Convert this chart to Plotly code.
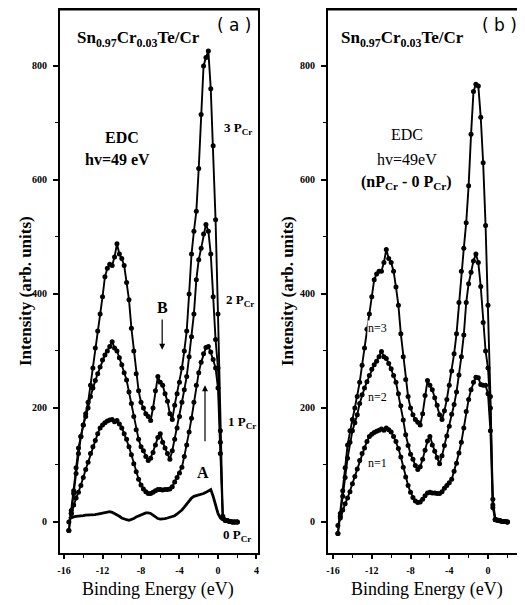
import plotly.graph_objects as go

# ---------------- data ----------------
energy = [-15.5, -15.25, -15.0, -14.75, -14.5, -14.25, -14.0, -13.75, -13.5, -13.25,
          -13.0, -12.75, -12.5, -12.25, -12.0, -11.75, -11.5, -11.25, -11.0, -10.75,
          -10.5, -10.25, -10.0, -9.75, -9.5, -9.25, -9.0, -8.75, -8.5, -8.25,
          -8.0, -7.75, -7.5, -7.25, -7.0, -6.75, -6.5, -6.25, -6.0, -5.75,
          -5.5, -5.25, -5.0, -4.75, -4.5, -4.25, -4.0, -3.75, -3.5, -3.25,
          -3.0, -2.75, -2.5, -2.25, -2.0, -1.75, -1.5, -1.25, -1.0, -0.75,
          -0.5, -0.25, 0.0, 0.25, 0.5, 0.75, 1.0, 1.25, 1.5, 1.75, 2.0]

# panel (a): EDC after n P_Cr depositions
p3 = [-15, 20, 55, 95, 130, 150, 170, 190, 210, 240,
      270, 305, 335, 365, 395, 430, 445, 452, 450, 465,
      488, 470, 462, 450, 420, 390, 340, 300, 260, 230,
      210, 200, 190, 185, 178, 200, 230, 255, 245, 240,
      225, 212, 190, 180, 205, 225, 245, 270, 300, 335,
      400, 470, 510, 545, 620, 715, 800, 815, 826, 760,
      660, 530, 365, 160, 10, 3, 2, 1, 0, 0, 0]
p2 = [-15, 15, 50, 85, 120, 150, 170, 185, 200, 220,
      235, 248, 260, 272, 284, 293, 300, 308, 316, 305,
      300, 288, 276, 262, 249, 228, 208, 185, 162, 145,
      132, 125, 115, 108, 112, 122, 135, 148, 155, 140,
      130, 120, 110, 125, 145, 165, 185, 210, 232, 255,
      290, 325, 365, 425, 460, 480, 505, 522, 510, 470,
      395, 320, 270, 140, 8, 3, 2, 1, 0, 0, 0]
p1 = [0, 15, 30, 42, 52, 64, 78, 92, 105, 120,
      132, 143, 155, 165, 170, 174, 177, 179, 180, 176,
      178, 172, 165, 155, 145, 132, 118, 102, 88, 75,
      65, 58, 53, 50, 50, 52, 55, 57, 57, 56,
      57, 57, 58, 62, 70, 78, 86, 96, 115, 135,
      158, 182, 210, 240, 262, 280, 295, 306, 308, 298,
      285, 270, 235, 120, 6, 3, 2, 1, 0, 0, 0]
p0 = [6, 8, 9, 10, 10, 11, 11, 12, 12, 12,
      12, 13, 14, 15, 16, 17, 18, 18, 17, 15,
      13, 10, 7, 5, 4, 3, 4, 6, 9, 11,
      13, 15, 16, 16, 15, 12, 9, 6, 5, 5,
      6, 7, 8, 9, 11, 14, 17, 21, 26, 32,
      37, 42, 45, 46, 47, 48, 50, 52, 55, 57,
      45, 30, 15, 7, 4, 2, 1, 1, 0, 0, 0]

# panel (b): difference spectra nP_Cr - 0P_Cr
n3 = [-20, 15, 55, 95, 135, 160, 180, 200, 220, 245,
      275, 305, 338, 365, 395, 425, 435, 440, 440, 455,
      478, 462, 455, 440, 412, 380, 330, 290, 250, 220,
      200, 188, 180, 175, 170, 190, 222, 248, 240, 232,
      218, 205, 188, 180, 195, 215, 240, 265, 295, 330,
      385, 440, 480, 525, 590, 680, 755, 768, 765, 710,
      630, 520, 380, 220, 40, 5, 3, 2, 1, 1, 0]
n2 = [-20, 10, 45, 78, 112, 140, 160, 174, 188, 208,
      223, 235, 246, 257, 268, 276, 282, 290, 299, 290,
      287, 278, 269, 257, 245, 225, 204, 179, 153, 134,
      119, 110, 99, 92, 97, 110, 126, 142, 150, 135,
      124, 113, 102, 116, 134, 151, 168, 189, 206, 228,
      258, 290, 328, 385, 418, 438, 458, 470, 455, 413,
      350, 300, 270, 200, 30, 4, 3, 2, 1, 1, 0]
n1 = [-6, 7, 21, 32, 42, 53, 67, 80, 93, 108,
      120, 130, 141, 150, 154, 157, 159, 161, 163, 161,
      165, 162, 158, 150, 141, 129, 114, 96, 79, 64,
      52, 43, 37, 34, 35, 40, 46, 51, 52, 51,
      51, 50, 50, 53, 59, 64, 69, 75, 89, 103,
      121, 140, 165, 194, 215, 232, 245, 254, 253, 241,
      240, 240, 225, 160, 25, 4, 3, 2, 1, 1, 0]

x_ticks = [-16, -12, -8, -4, 0, 4]
x_tick_text = ["-16", "-12", "-8", "-4", "0", "4"]
x_minor = [-14, -10, -6, -2, 2]
y_ticks = [0, 200, 400, 600, 800]
y_tick_text = ["0", "200", "400", "600", "800"]
y_minor = [100, 300, 500, 700]

for arr in (p3, p2, p1, p0, n3, n2, n1):
    assert len(arr) == len(energy)

# ---------------- figure ----------------
OFF = 8                      # page body margin of the html page
W, H = 525 - OFF, 605 - OFF
SERIF = "Liberation Serif"


def PX(X):                   # window pixel -> paper fraction
    return (X - OFF) / W


def PY(Y):
    return 1 - (Y - OFF) / H


fig = go.Figure()


def add_curve(y, xa, ya, markers=True, width=1.9):
    fig.add_trace(go.Scatter(
        x=energy, y=y, xaxis=xa, yaxis=ya,
        mode="lines+markers" if markers else "lines",
        line=dict(color="black", width=width),
        marker=dict(color="black", size=5),
        showlegend=False, hoverinfo="skip"))


add_curve(p0, "x", "y", markers=False, width=2.8)
add_curve(p1, "x", "y")
add_curve(p2, "x", "y")
add_curve(p3, "x", "y")
add_curve(n1, "x2", "y2")
add_curve(n2, "x2", "y2")
add_curve(n3, "x2", "y2")

ydom = [PY(553), PY(9.5)]
tickfont = dict(family=SERIF, size=10, color="black", weight="bold")


def xaxis(domain, rng, anchor):
    return dict(domain=domain, range=rng, anchor=anchor, automargin=False,
                tickvals=x_ticks, ticktext=x_tick_text,
                showline=True, linecolor="black", linewidth=2, mirror=True,
                ticks="outside", ticklen=4, tickwidth=1.5, tickcolor="black",
                ticklabelstandoff=3,
                minor=dict(tickvals=x_minor, ticks="outside", ticklen=3,
                           tickwidth=1, tickcolor="black"),
                showgrid=False, zeroline=False, tickfont=tickfont)


def yaxis(anchor):
    return dict(domain=ydom, range=[-54.4, 899], anchor=anchor, automargin=False,
                tickvals=y_ticks, ticktext=y_tick_text,
                showline=True, linecolor="black", linewidth=2, mirror=True,
                ticks="outside", ticklen=5, tickwidth=1.5, tickcolor="black",
                ticklabelstandoff=4,
                minor=dict(tickvals=y_minor, ticks="outside", ticklen=3,
                           tickwidth=1, tickcolor="black"),
                showgrid=False, zeroline=False, tickfont=tickfont)


fig.update_layout(
    width=W, height=H,
    margin=dict(l=0, r=0, t=0, b=0, pad=0, autoexpand=False),
    paper_bgcolor="white", plot_bgcolor="white",
    xaxis=xaxis([PX(60), PX(258)], [-16.42, 4.16], "y"),
    yaxis=yaxis("x"),
    xaxis2=xaxis([PX(328), 1.0], [-16.52, 3.82], "y2"),
    yaxis2=yaxis("x2"),
)

# explicit top frame lines of both panels
for xr, yr in (("x domain", "y domain"), ("x2 domain", "y2 domain")):
    fig.add_shape(type="line", xref=xr, yref=yr, x0=0, x1=1, y0=1, y1=1,
                  line=dict(color="black", width=2))


def txt(x, y, s, size, xr="x", yr="y", bold=True, family=SERIF, bg=None):
    fig.add_annotation(x=x, y=y, xref=xr, yref=yr, text=s, showarrow=False,
                       xanchor="center", yanchor="middle",
                       font=dict(family=family, size=size, color="black",
                                 weight="bold" if bold else "normal"),
                       bgcolor=bg, borderpad=0)


title = "Sn<sub>0.97</sub>Cr<sub>0.03</sub>Te/Cr"
# panel (a) texts
txt(-8.3, 848, title, 17)
txt(1.7, 872, "( a )", 17, bold=False, family="DejaVu Sans")
txt(-10.0, 675, "EDC", 16)
txt(-10.4, 635, "hv=49 eV", 16)
txt(2.1, 691, "3 P<sub>Cr</sub>", 13)
txt(2.3, 389, "2 P<sub>Cr</sub>", 13)
txt(2.5, 174, "1 P<sub>Cr</sub>", 13)
txt(2.0, -23, "0 P<sub>Cr</sub>", 13)
txt(-5.8, 377, "B", 16)
txt(-1.55, 86, "A", 16)
fig.add_annotation(x=-5.8, y=302, ax=-5.8, ay=358, xref="x", yref="y",
                   axref="x", ayref="y", text="", showarrow=True,
                   arrowhead=2, arrowsize=1, arrowwidth=1.2, arrowcolor="black")
fig.add_annotation(x=-1.35, y=240, ax=-1.35, ay=139, xref="x", yref="y",
                   axref="x", ayref="y", text="", showarrow=True,
                   arrowhead=2, arrowsize=1, arrowwidth=1.2, arrowcolor="black")

# panel (b) texts
txt(-8.8, 848, title, 17, "x2", "y2")
txt(1.2, 872, "( b )", 17, "x2", "y2", bold=False, family="DejaVu Sans")
txt(-8.4, 679, "EDC", 16, "x2", "y2", bold=False)
txt(-8.4, 635, "hv=49eV", 16, "x2", "y2", bold=False)
txt(-8.4, 595, "(nP<sub>Cr</sub> - 0 P<sub>Cr</sub>)", 16, "x2", "y2")
txt(-11.45, 340, "n=3", 12, "x2", "y2", bold=False, bg="white")
txt(-11.4, 219, "n=2", 12, "x2", "y2", bold=False, bg="white")
txt(-11.45, 104, "n=1", 12, "x2", "y2", bold=False, bg="white")

# axis titles
for xc in (25, 287):
    fig.add_annotation(x=PX(xc), y=PY(291), xref="paper", yref="paper",
                       xanchor="center", yanchor="middle",
                       text="Intensity (arb. units)", textangle=-90, showarrow=False,
                       font=dict(family=SERIF, size=17, color="black", weight="bold"))
for xc in (158, 427):
    fig.add_annotation(x=PX(xc), y=PY(589), xref="paper", yref="paper",
                       xanchor="center", yanchor="middle",
                       text="Binding Energy (eV)", showarrow=False,
                       font=dict(family=SERIF, size=18, color="black"))

fig.write_html("out.html")
